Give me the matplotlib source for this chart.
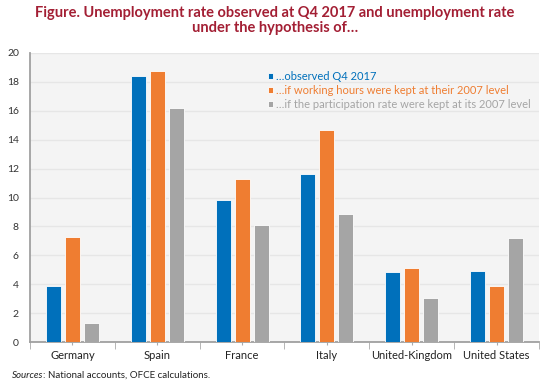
import matplotlib.pyplot as plt
import numpy as np

plt.rcParams['font.family'] = ['Lato', 'DejaVu Sans']

countries = ['Germany', 'Spain', 'France', 'Italy', 'United-Kingdom', 'United States']
observed = [3.9, 18.4, 9.8, 11.6, 4.85, 4.9]
hours_2007 = [7.3, 18.75, 11.25, 14.7, 5.1, 3.9]
particip_2007 = [1.35, 16.2, 8.1, 8.85, 3.05, 7.2]

labels = ['\u2026observed Q4 2017',
          '\u2026if working hours were kept at their 2007 level',
          '\u2026if the participation rate were kept at its 2007 level']
colors = ['#0070bb', '#ef7d31', '#a5a5a5']

fig = plt.figure(figsize=(5.5, 3.84), dpi=100)
ax = fig.add_axes([0.0545, 0.109, 0.9255, 0.753])
ax.set_facecolor('#f4f4f4')

x = np.arange(len(countries))
w = 0.176
step = 0.224
for i, (vals, c, lab) in enumerate(zip([observed, hours_2007, particip_2007], colors, labels)):
    ax.bar(x + (i - 1) * step, vals, width=w, color=c, edgecolor='#ffffff',
           linewidth=0.6, label=lab, zorder=3)

ax.set_xlim(-0.5, len(countries) - 0.5)
ax.set_ylim(0, 20)
ax.set_yticks(np.arange(0, 21, 2))
ax.yaxis.grid(True, color='#e6e6e6', linewidth=1, zorder=0)
ax.tick_params(axis='y', length=0, labelsize=7.5, labelcolor='#333333', pad=8)

# category labels centred, ticks at group boundaries
ax.set_xticks(x)
ax.set_xticklabels(countries)
ax.tick_params(axis='x', length=2, color='#aaaaaa', labelsize=8, labelcolor='#222222', pad=4)
ax.set_xticks(np.arange(-0.5, len(countries), 1), minor=True)
ax.tick_params(axis='x', which='minor', length=5, color='#aaaaaa')

for s in ['top', 'right']:
    ax.spines[s].set_visible(False)
ax.spines['left'].set_color('#a0a0a0')
ax.spines['left'].set_linewidth(1.3)
ax.spines['bottom'].set_color('#a0a0a0')
ax.spines['bottom'].set_linewidth(1.3)

ax.legend(loc='upper left', bbox_to_anchor=(0.458, 0.952), frameon=False,
          fontsize=8, handlelength=0.45, handleheight=0.45, handletextpad=0.3,
          labelspacing=0.25, borderaxespad=0, labelcolor=colors)

fig.text(0.5, 0.985, 'Figure. Unemployment rate observed at Q4 2017 and unemployment rate\nunder the hypothesis of\u2026',
         ha='center', va='top', fontsize=10.5, fontweight='bold', color='#a31f34', linespacing=1.15)

t1 = fig.text(0.022, 0.016, 'Sources', fontsize=7, style='italic', color='#222222')
fig.canvas.draw()
bb = t1.get_window_extent()
fig.text(bb.x1 / fig.bbox.width, 0.016, ': National accounts, OFCE calculations.',
         fontsize=7, color='#222222')

fig.savefig('out.png', dpi=100)
